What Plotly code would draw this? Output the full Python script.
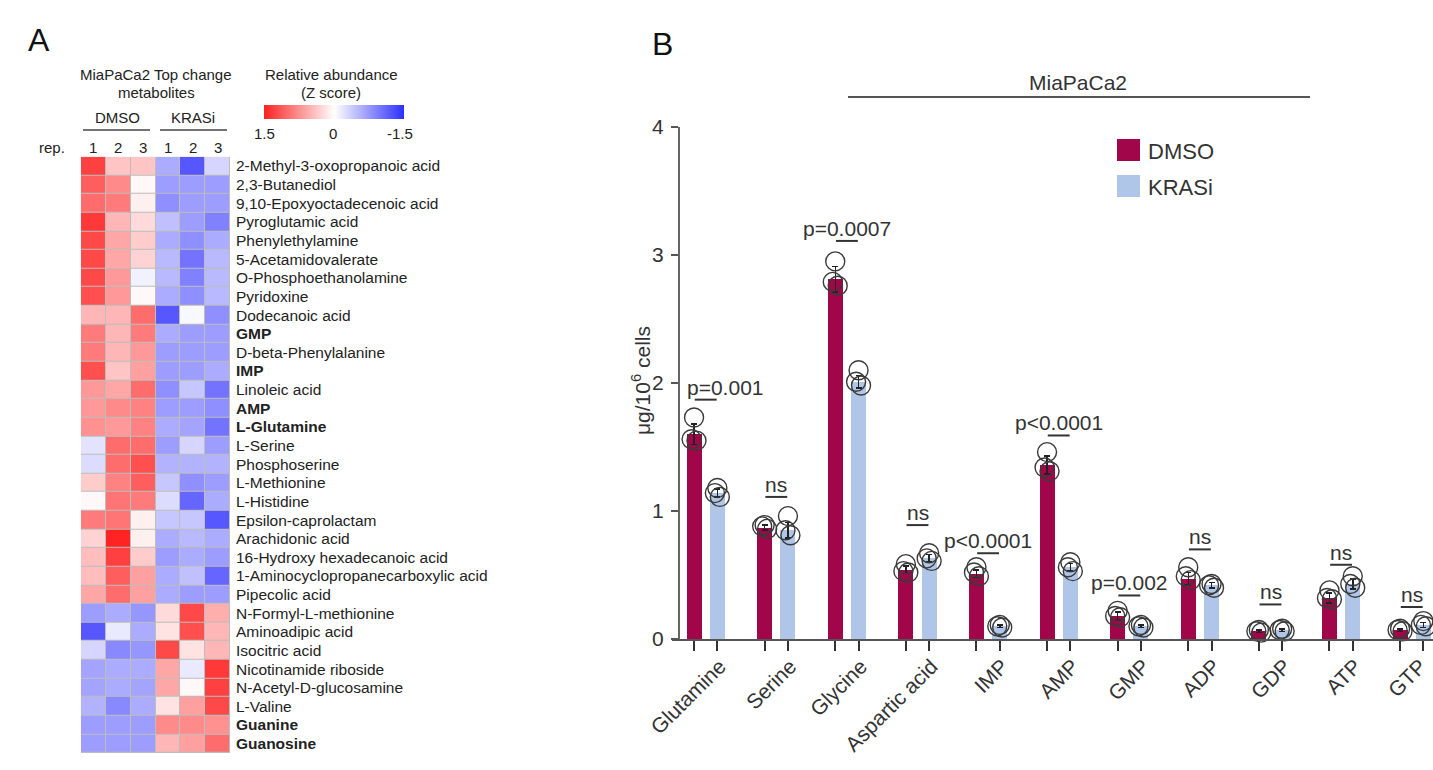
import plotly.graph_objects as go

W, H = 1433, 770
FONT = "Liberation Sans, Arial, sans-serif"

# ---------------- Panel A data ----------------
metabolites = [
    "2-Methyl-3-oxopropanoic acid", "2,3-Butanediol", "9,10-Epoxyoctadecenoic acid",
    "Pyroglutamic acid", "Phenylethylamine", "5-Acetamidovalerate",
    "O-Phosphoethanolamine", "Pyridoxine", "Dodecanoic acid", "GMP",
    "D-beta-Phenylalanine", "IMP", "Linoleic acid", "AMP", "L-Glutamine",
    "L-Serine", "Phosphoserine", "L-Methionine", "L-Histidine",
    "Epsilon-caprolactam", "Arachidonic acid", "16-Hydroxy hexadecanoic acid",
    "1-Aminocyclopropanecarboxylic acid", "Pipecolic acid", "N-Formyl-L-methionine",
    "Aminoadipic acid", "Isocitric acid", "Nicotinamide riboside",
    "N-Acetyl-D-glucosamine", "L-Valine", "Guanine", "Guanosine",
]
bold_names = ["GMP", "IMP", "AMP", "L-Glutamine", "Guanine", "Guanosine"]
rep_labels = ["1", "2", "3", "1", "2", "3"]
zscores = [
    [1.30, 0.40, 0.40, -0.60, -1.20, -0.30],
    [1.10, 0.80, 0.05, -0.70, -0.70, -0.70],
    [1.00, 0.90, 0.10, -0.80, -0.70, -0.70],
    [1.35, 0.50, 0.25, -0.45, -0.70, -0.90],
    [1.25, 0.60, 0.35, -0.60, -0.80, -0.60],
    [1.25, 0.60, 0.30, -0.50, -1.00, -0.50],
    [1.25, 0.70, -0.10, -0.50, -0.90, -0.50],
    [1.20, 0.70, 0.05, -0.60, -0.80, -0.50],
    [0.50, 0.50, 1.00, -1.20, -0.05, -0.80],
    [0.90, 0.50, 0.90, -0.60, -0.70, -0.70],
    [0.90, 0.50, 0.70, -0.70, -0.70, -0.70],
    [1.20, 0.40, 0.65, -0.70, -0.70, -0.60],
    [0.70, 0.60, 1.00, -0.80, -0.40, -1.00],
    [0.70, 0.80, 0.85, -0.70, -0.70, -0.80],
    [0.75, 0.70, 0.85, -0.60, -0.65, -1.00],
    [-0.20, 1.00, 1.00, -0.70, -0.30, -0.70],
    [-0.25, 1.00, 1.20, -0.55, -0.55, -0.55],
    [0.35, 0.85, 1.10, -0.40, -0.80, -0.70],
    [0.05, 0.95, 0.90, -0.25, -1.10, -0.60],
    [0.90, 0.95, 0.10, -0.40, -0.40, -1.20],
    [0.30, 1.50, 0.10, -0.60, -0.50, -0.60],
    [0.45, 1.30, 0.35, -0.70, -0.60, -0.70],
    [0.45, 1.10, 0.65, -0.60, -0.45, -1.10],
    [0.60, 1.00, 0.65, -0.60, -0.70, -0.70],
    [-0.70, -0.60, -0.75, 0.25, 1.25, 0.55],
    [-1.20, -0.15, -0.60, 0.20, 1.20, 0.50],
    [-0.30, -0.85, -0.75, 1.25, 0.20, 0.50],
    [-0.65, -0.60, -0.60, 0.60, -0.15, 1.35],
    [-0.65, -0.60, -0.65, 0.60, 0.05, 1.30],
    [-0.55, -0.85, -0.60, 0.20, 0.65, 1.25],
    [-0.70, -0.70, -0.70, 0.80, 0.80, 0.75],
    [-0.70, -0.70, -0.70, 0.50, 0.65, 1.00],
]
key_z = [1.5, 0, -1.5]
key_labels = ["1.5", "0", "-1.5"]

# ---------------- Panel B data ----------------
categories = ["Glutamine", "Serine", "Glycine", "Aspartic acid", "IMP", "AMP",
              "GMP", "ADP", "GDP", "ATP", "GTP"]
dmso_mean = [1.60, 0.87, 2.81, 0.54, 0.51, 1.36, 0.18, 0.47, 0.06, 0.32, 0.07]
krasi_mean = [1.14, 0.85, 2.01, 0.63, 0.10, 0.56, 0.10, 0.42, 0.07, 0.43, 0.11]
dmso_err = [0.08, 0.02, 0.10, 0.03, 0.03, 0.07, 0.03, 0.05, 0.01, 0.04, 0.01]
krasi_err = [0.03, 0.06, 0.05, 0.03, 0.01, 0.03, 0.01, 0.02, 0.01, 0.04, 0.02]
dmso_reps = [[1.73, 1.56, 1.55], [0.89, 0.88, 0.86], [2.95, 2.79, 2.76],
             [0.585, 0.53, 0.52], [0.56, 0.52, 0.49], [1.46, 1.34, 1.31],
             [0.22, 0.18, 0.17], [0.56, 0.49, 0.46], [0.07, 0.06, 0.05],
             [0.38, 0.32, 0.31], [0.08, 0.07, 0.06]]
krasi_reps = [[1.18, 1.14, 1.11], [0.96, 0.85, 0.81], [2.10, 2.01, 1.98],
              [0.67, 0.63, 0.61], [0.11, 0.10, 0.09], [0.60, 0.56, 0.53],
              [0.11, 0.10, 0.09], [0.43, 0.42, 0.40], [0.08, 0.07, 0.06],
              [0.49, 0.43, 0.40], [0.14, 0.11, 0.10]]
p_labels = ["p=0.001", "ns", "p=0.0007", "ns", "p<0.0001", "p<0.0001",
            "p=0.002", "ns", "ns", "ns", "ns"]
p_line_y = [1.87, 1.11, 3.11, 0.89, 0.67, 1.59, 0.34, 0.70, 0.27, 0.58, 0.25]
series_names = ["DMSO", "KRASi"]
y_ticks = [0, 1, 2, 3, 4]

DMSO_C = "#A1064A"
KRAS_C = "#B0C6E8"
TXT = "#333333"

# small horizontal nudges (pixels) of the p-value texts, and of the category labels
p_text_dx = [20, 0, 0, 0, 0, 0, 0, 0, 0, 0, 0]
cat_label_off = [0.2] * 10 + [0.12]


def px(x):
    return x / W


def py(y):
    return 1 - y / H


def label(x, y, text, size, color="#222", xanchor="center", yanchor="middle", **kw):
    return dict(x=px(x), y=py(y), xref="paper", yref="paper", text=text,
                showarrow=False, xanchor=xanchor, yanchor=yanchor,
                font=dict(size=size, color=color, family=FONT), **kw)


fig = go.Figure()

# ---------- heatmap ----------
colorscale = [[0, "rgb(45,45,255)"], [0.5, "rgb(255,255,255)"], [1, "rgb(255,35,35)"]]
ticktext = [f"<b>{m}</b>" if m in bold_names else m for m in metabolites]
fig.add_trace(go.Heatmap(
    z=zscores, x=list(range(6)), y=list(range(len(metabolites))),
    colorscale=colorscale, zmin=-1.5, zmax=1.5, showscale=False,
    xgap=1, ygap=1, xaxis="x", yaxis="y", hoverinfo="skip"))

# gradient key
fig.add_trace(go.Heatmap(
    z=[key_z], x=[0, 1, 2], y=[0], colorscale=colorscale, zmin=-1.5, zmax=1.5,
    showscale=False, zsmooth="best", xaxis="x4", yaxis="y4", hoverinfo="skip"))

# ---------- bars ----------
OFF = 0.165
BW = 0.212
xd = [i - OFF for i in range(len(categories))]
xk = [i + OFF for i in range(len(categories))]
fig.add_trace(go.Bar(x=xd, y=dmso_mean, width=BW, marker_color=DMSO_C,
                     marker_line_width=0, name=series_names[0],
                     error_y=dict(type="data", array=dmso_err, color="#222",
                                  thickness=1.5, width=3),
                     xaxis="x2", yaxis="y2", showlegend=False))
fig.add_trace(go.Bar(x=xk, y=krasi_mean, width=BW, marker_color=KRAS_C,
                     marker_line_width=0, name=series_names[1],
                     error_y=dict(type="data", array=krasi_err, color="#222",
                                  thickness=1.5, width=3),
                     xaxis="x2", yaxis="y2", showlegend=False))

jit = [0.0, -0.035, 0.035]
px_pts, py_pts = [], []
for i in range(len(categories)):
    for r in range(3):
        px_pts.append(xd[i] + jit[r]); py_pts.append(dmso_reps[i][r])
        px_pts.append(xk[i] + jit[r]); py_pts.append(krasi_reps[i][r])
fig.add_trace(go.Scatter(x=px_pts, y=py_pts, mode="markers",
                         marker=dict(symbol="circle-open", size=19,
                                     line=dict(color="#3a3a3a", width=1.4), color="#3a3a3a"),
                         xaxis="x2", yaxis="y2", showlegend=False,
                         cliponaxis=False, hoverinfo="skip"))

shapes = []
annotations = []

# heatmap background grid colour
shapes.append(dict(type="rect", xref="x", yref="y", x0=-0.5, x1=5.5, y0=-0.5,
                   y1=len(metabolites) - 0.5, fillcolor="#bdbdbd",
                   line=dict(width=0), layer="below"))

# p-value lines and texts
for i, lab in enumerate(p_labels):
    shapes.append(dict(type="line", xref="x2", yref="y2", x0=i - 0.155, x1=i + 0.155,
                       y0=p_line_y[i], y1=p_line_y[i], line=dict(color="#333", width=2)))
    annotations.append(dict(x=i, y=p_line_y[i], xref="x2", yref="y2", text=lab,
                            showarrow=False, xanchor="center", yanchor="bottom", yshift=-1,
                            xshift=p_text_dx[i],
                            font=dict(size=21, color=TXT, family=FONT)))

# y axis title for B
annotations.append(label(641, 381, "μg/10<sup>6</sup> cells", 21, TXT, textangle=-90))

# legend B
for k, (nm, col) in enumerate(zip(series_names, [DMSO_C, KRAS_C])):
    y0 = 139 + k * 36
    shapes.append(dict(type="rect", xref="paper", yref="paper", x0=px(1117), x1=px(1140),
                       y0=py(y0), y1=py(y0 + 22), fillcolor=col, line=dict(width=0)))
    annotations.append(label(1146, y0 + 12, nm, 22, TXT, xanchor="left"))

# MiaPaCa2 header
annotations.append(label(1078, 82, "MiaPaCa2", 21, TXT))
shapes.append(dict(type="line", xref="paper", yref="paper", x0=px(848), x1=px(1310),
                   y0=py(97), y1=py(97), line=dict(color="#555", width=2)))

# panel letters
annotations.append(label(39, 40, "A", 32, "#111"))
annotations.append(label(662, 44, "B", 32, "#111"))

# Panel A headers
for txt, x, y in [("MiaPaCa2 Top change", 156, 75), ("metabolites", 156, 93),
                  ("Relative abundance", 331, 75), ("(Z score)", 331, 93)]:
    annotations.append(label(x, y, txt, 15))
for lab, x in zip(key_labels, [264, 333, 400]):
    annotations.append(label(x, 133, lab, 15))
for lab, x, x0, x1 in [("DMSO", 117, 83, 150), ("KRASi", 193, 160, 227)]:
    annotations.append(label(x, 118, lab, 15))
    shapes.append(dict(type="line", xref="paper", yref="paper", x0=px(x0), x1=px(x1),
                       y0=py(130), y1=py(130), line=dict(color="#444", width=1.5)))
annotations.append(label(67, 147, "rep.", 15, xanchor="right"))
col_w = (230 - 81) / 6
for c, lab in enumerate(rep_labels):
    annotations.append(label(81 + col_w * (c + 0.5), 147, lab, 15))

n = len(metabolites)
cat_x_px0 = 705.7
cat_step = 70.6
x2_lo = (672 - cat_x_px0) / cat_step
x2_hi = (W - cat_x_px0) / cat_step

fig.update_layout(
    width=W, height=H, margin=dict(l=0, r=0, t=0, b=0, autoexpand=False),
    paper_bgcolor="white", plot_bgcolor="white",
    font=dict(family=FONT, color=TXT),
    showlegend=False, bargap=0,
    shapes=shapes, annotations=annotations,
    xaxis=dict(domain=[px(81), px(230)], range=[-0.5, 5.5], showticklabels=False,
               showgrid=False, zeroline=False, ticks="", anchor="y", automargin=False),
    yaxis=dict(domain=[py(753), py(156.7)], range=[n - 0.5, -0.5], side="right",
               tickvals=list(range(n)), ticktext=ticktext, ticks="",
               showgrid=False, zeroline=False, anchor="x", automargin=False,
               ticklabelstandoff=5,
               tickfont=dict(size=15.5, color="#222", family=FONT)),
    xaxis4=dict(domain=[px(264), px(404)], range=[0, 2], visible=False, anchor="y4",
                automargin=False),
    yaxis4=dict(domain=[py(119), py(105)], range=[-0.5, 0.5], visible=False, anchor="x4",
                automargin=False),
    xaxis2=dict(domain=[px(672), 1], range=[x2_lo, x2_hi], anchor="y2",
                tickvals=xd + xk, showticklabels=False,
                ticks="outside", ticklen=10, tickwidth=2, tickcolor="#333",
                showline=True, linecolor="#555", linewidth=2,
                showgrid=False, zeroline=False, automargin=False),
    xaxis3=dict(overlaying="x2", matches="x2", anchor="y2", side="bottom",
                tickvals=[i + cat_label_off[i] for i in range(len(categories))],
                ticktext=categories,
                tickangle=-45, ticks="", showline=False, showgrid=False, zeroline=False,
                automargin=False, ticklabelstandoff=10, ticklabeloverflow="allow",
                tickfont=dict(size=21, color=TXT, family=FONT)),
    yaxis2=dict(domain=[py(639), py(127)], range=[0, 4], anchor="free",
                position=px(679), tickvals=y_ticks, ticks="outside", ticklen=7,
                tickwidth=1.5, tickcolor="#555", showline=True, linecolor="#666",
                linewidth=2, showgrid=False, zeroline=False, automargin=False,
                ticklabelstandoff=3,
                tickfont=dict(size=21, color=TXT, family=FONT)),
)
# invisible trace so the label axis renders
fig.add_trace(go.Scatter(x=[0], y=[0], xaxis="x3", yaxis="y2", mode="markers",
                         marker=dict(opacity=0), showlegend=False, hoverinfo="skip"))

fig.write_html("out.html")
